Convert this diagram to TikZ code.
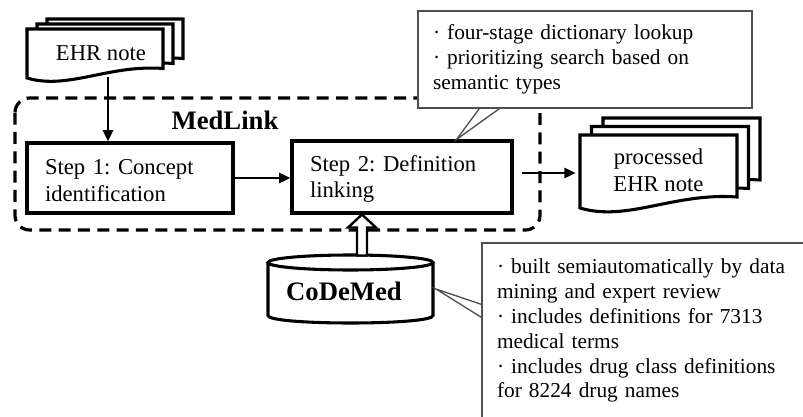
\documentclass[tikz,border=0pt]{standalone}
\usepackage{fontspec}
\setmainfont{Liberation Serif}
\frenchspacing
\usetikzlibrary{arrows.meta,calc,positioning}
\definecolor{notegray}{RGB}{80,80,80}
\newcommand*{\docpage}[4]{%
  \filldraw[docline] (#1,#2) -- ({#1+#3},#2) -- ({#1+#3},{#2+#4-0.07*#3})
    .. controls ({#1+0.6*#3},{#2+#4-0.1*#3}) and ({#1+0.3*#3},{#2+#4+0.09*#3}) .. (#1,{#2+#4}) -- cycle;}
\begin{document}
\begin{tikzpicture}[x=0.75pt,y=-0.75pt,
  docline/.style={draw=black,fill=white,line width=2.3pt,line join=miter},
  stepbox/.style={rectangle,draw=black,fill=white,line width=2.3pt,inner sep=0pt,align=left,
    font=\fontsize{17}{20}\selectfont},
  doctext/.style={inner sep=0pt,font=\fontsize{17}{20}\selectfont},
  note/.style={rectangle,draw=notegray,fill=white,line width=1pt,inner sep=0pt,align=left,
    font=\fontsize{16}{18.6}\selectfont},
  noteline/.style={draw=notegray,line width=1pt},
  arrow/.style={line width=1.8pt,-{Triangle[length=8.5pt,width=7.5pt]}},
  groupline/.style={line width=2.4pt,dash pattern=on 9pt off 5.5pt,rounded corners=11pt},
  hollow/.style={draw=black,fill=white,line width=1.8pt,line join=miter},
  title/.style={font=\bfseries\fontsize{20}{24}\selectfont}]
\useasboundingbox (0,0) rectangle (803,417);
% MedLink group
\draw[groupline] (15,98) rectangle (540,230);
\node[title] (medlink) at (225,120) {MedLink};
% notes
\node[note,minimum width=250.5pt,minimum height=72.75pt,text width=228pt] (lookupnote) at (585,59.5)
  {· four-stage dictionary lookup\\· prioritizing search based on\\semantic types};
\node[note,minimum width=261pt,minimum height=131.6pt,text width=238.5pt] (codemednote) at (656,330.75)
  {· built semiautomatically by data\\mining and expert review\\· includes definitions for 7313\\medical terms\\· includes drug class definitions\\for 8224 drug names};
% steps
\node[stepbox,minimum width=154.5pt,minimum height=52.5pt,text width=127.5pt] (step1) at (130,178)
  {\rule{0pt}{15pt}Step 1: Concept\\identification};
\node[stepbox,minimum width=165pt,minimum height=54pt,text width=138pt] (step2) at (402,177)
  {\rule{0pt}{15pt}Step 2: Definition\\linking};
% documents
\foreach \i in {2,1,0} {\docpage{27+10*\i}{29-5*\i}{136}{49}}
\node[doctext] (ehr) at (101,53) {EHR note};
\coordinate (ehrout) at (108,77);
\foreach \i in {2,1,0} {\docpage{580+11.5*\i}{135-8.5*\i}{157}{73}}
\node[doctext,minimum width=117.75pt,align=center] (processed) at (658.5,170) {processed\\EHR note};
% database
\filldraw[docline] (268,262.5) -- (268,315.5) .. controls (268,325.5) and (433,325.5) .. (433,315.5) -- (433,262.5);
\filldraw[docline] (350.5,262.5) ellipse [x radius=82.5,y radius=7.5];
\node[title] (codemed) at (344,291) {CoDeMed};
% connectors
\draw[arrow] (ehrout) -- (ehrout |- step1.north);
\draw[arrow] (step1.east) -- (step1.east -| step2.west);
\draw[arrow,shorten >=3pt] ([xshift=6pt,yshift=3pt]step2.east) -- ([yshift=3pt]step2.east -| processed.west);
\coordinate (dbtop) at (362,255);
\filldraw[hollow] (dbtop |- step2.south) -- ++(14,13) -- ++(-9,0) -- ++(0,28) -- ++(-10,0) -- ++(0,-28) -- ++(-9,0) -- cycle;
\coordinate (lookuptip) at ($(step2.north west)+(166,0)$);
\draw[noteline] ($(lookupnote.south west)+(62,0)$) -- (lookuptip) -- ($(lookupnote.south west)+(82,0)$);
\coordinate (codemedtip) at (436,289);
\draw[noteline] ($(codemednote.north west)+(0,62)$) -- (codemedtip) -- ($(codemednote.north west)+(0,75)$);
\end{tikzpicture}
\end{document}
